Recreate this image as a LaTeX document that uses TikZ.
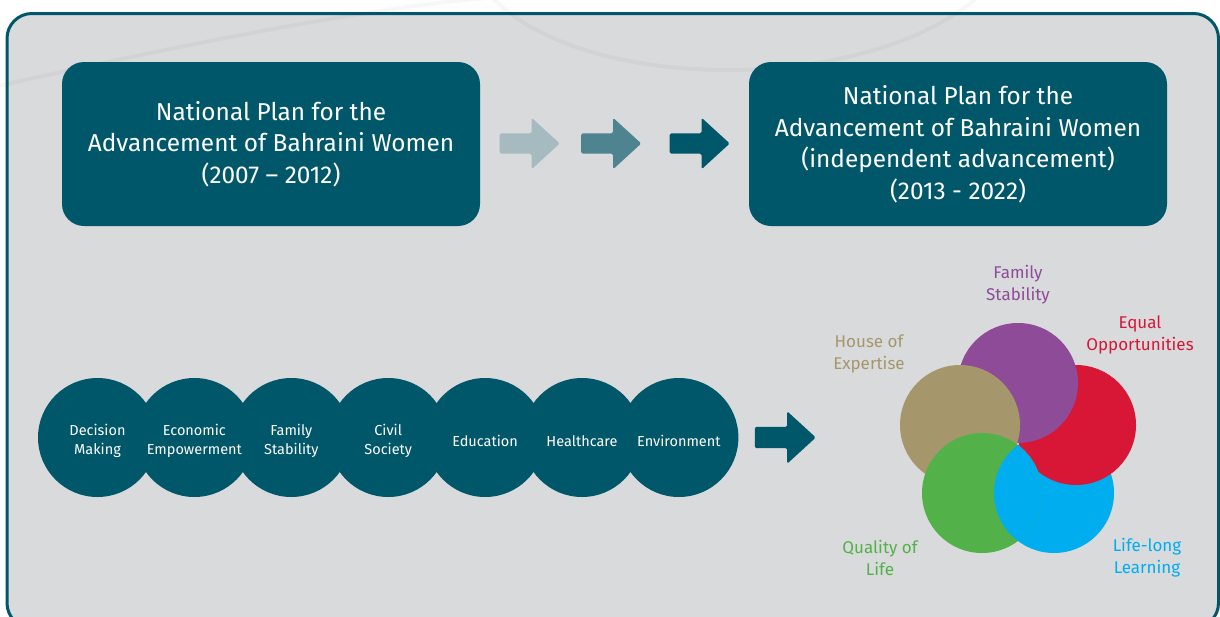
\documentclass[tikz,border=0pt]{standalone}
\usepackage{fontspec}
\setmainfont{Fira Sans}
\usetikzlibrary{positioning, shapes.arrows}

\definecolor{planteal}{HTML}{01576A}
\definecolor{panelgray}{HTML}{D9DADC}
\definecolor{fadeteal}{HTML}{A6BBC0}
\definecolor{midteal}{HTML}{4E8490}
\definecolor{famcol}{HTML}{8D4B98}
\definecolor{eqcol}{HTML}{D81635}
\definecolor{lifecol}{HTML}{00ADEE}
\definecolor{qualcol}{HTML}{53B14A}
\definecolor{housecol}{HTML}{A5976B}

\tikzset{
   plan/.style={
      fill=planteal,
      rounded corners=22pt,
      minimum width=418pt,
      minimum height=164pt,
      text=white,
      align=center,
      font=\fontsize{24.4}{31.5}\selectfont
   },
   chev/.style={
      single arrow,
      single arrow head extend=15.5pt,
      single arrow tip angle=85,
      minimum height=60pt,
      minimum width=51pt,
      inner sep=0pt,
      inner ysep=10pt,
      rounded corners=1.5pt
   },
   area/.style={
      circle,
      fill=planteal,
      minimum size=119pt,
      inner sep=0pt
   },
   areatext/.style={
      text=white,
      align=center,
      yshift=-3.5pt,
      font=\fontsize{14.5}{19}\selectfont
   },
   petal/.style={circle, minimum size=120pt, inner sep=0pt},
   tag/.style={align=center, font=\fontsize{17}{22}\selectfont}
}

\begin{document}
\begin{tikzpicture}[x=1pt, y=-1pt]

   \useasboundingbox (0,0) rectangle (1220,616);
   \fill[white] (0,0) rectangle (1220,616);

   % panel
   \draw[line width=3pt, draw=planteal, fill=panelgray, rounded corners=25pt]
      (7,13.5) rectangle (1218.5,628);

   % faint watermark arcs
   \draw[line width=4pt, black, opacity=0.03]
      (-2,86) .. controls (180,45) and (380,5) .. (500,-3);
   \draw[line width=4pt, black, opacity=0.03]
      (490,-5) .. controls (580,95) and (870,95) .. (980,-5);

   % the two plans
   \node[plan] (old) at (271,144)
      {National Plan for the\\Advancement of Bahraini Women\\(2007 – 2012)};
   \node[plan] (new) at (958,144)
      {National Plan for the\\Advancement of Bahraini Women\\(independent advancement)\\(2013 - 2022)};

   \node[chev, fill=fadeteal, anchor=west] (ar1) at (499.5,143.5) {};
   \node[chev, fill=midteal, right=21pt of ar1] (ar2) {};
   \node[chev, fill=planteal, right=28pt of ar2] (ar3) {};

   % areas of the first plan
   \node[area] (dm) at (97.5,437.5) {};
   \node[area, right=-22.5pt of dm] (ee) {};
   \node[area, right=-22.5pt of ee] (fs) {};
   \node[area, right=-22.5pt of fs] (cs) {};
   \node[area, right=-22.5pt of cs] (ed) {};
   \node[area, right=-22.5pt of ed] (hc) {};
   \node[area, right=-22.5pt of hc] (en) {};

   \node[areatext] at (dm) {Decision\\Making};
   \node[areatext] at (ee) {Economic\\Empowerment};
   \node[areatext] at (fs) {Family\\Stability};
   \node[areatext] at (cs) {Civil\\Society};
   \node[areatext] at (ed) {Education};
   \node[areatext] at (hc) {Healthcare};
   \node[areatext] at (en) {Environment};

   \node[chev, fill=planteal, minimum height=61pt, inner ysep=10.5pt,
      right=16pt of en] (ar4) {};

   % pillars of the second plan
   \node[petal, fill=lifecol] (ll) at (1054,493) {};
   \node[petal, fill=eqcol] (eo) at (1076,425) {};
   \node[petal, fill=famcol] (fm) at (1018,383) {};
   \node[petal, fill=housecol] (he) at (960,425) {};
   \node[petal, fill=qualcol] (ql) at (982,493) {};
   \begin{scope}
      \clip (ql.center) circle[radius=60pt];
      \fill[lifecol] (ll.center) circle[radius=60pt];
   \end{scope}

   \node[tag, text=famcol] (fml) at (1018,285) {Family\\Stability};
   \node[tag, text=eqcol] (eol) at (1140,335) {Equal\\Opportunities};
   \node[tag, text=housecol] (hel) at (869,353.5) {House of\\Expertise};
   \node[tag, text=qualcol] (qll) at (880,558) {Quality of\\Life};
   \node[tag, text=lifecol] (lll) at (1147,558) {Life-long\\Learning};

\end{tikzpicture}
\end{document}
